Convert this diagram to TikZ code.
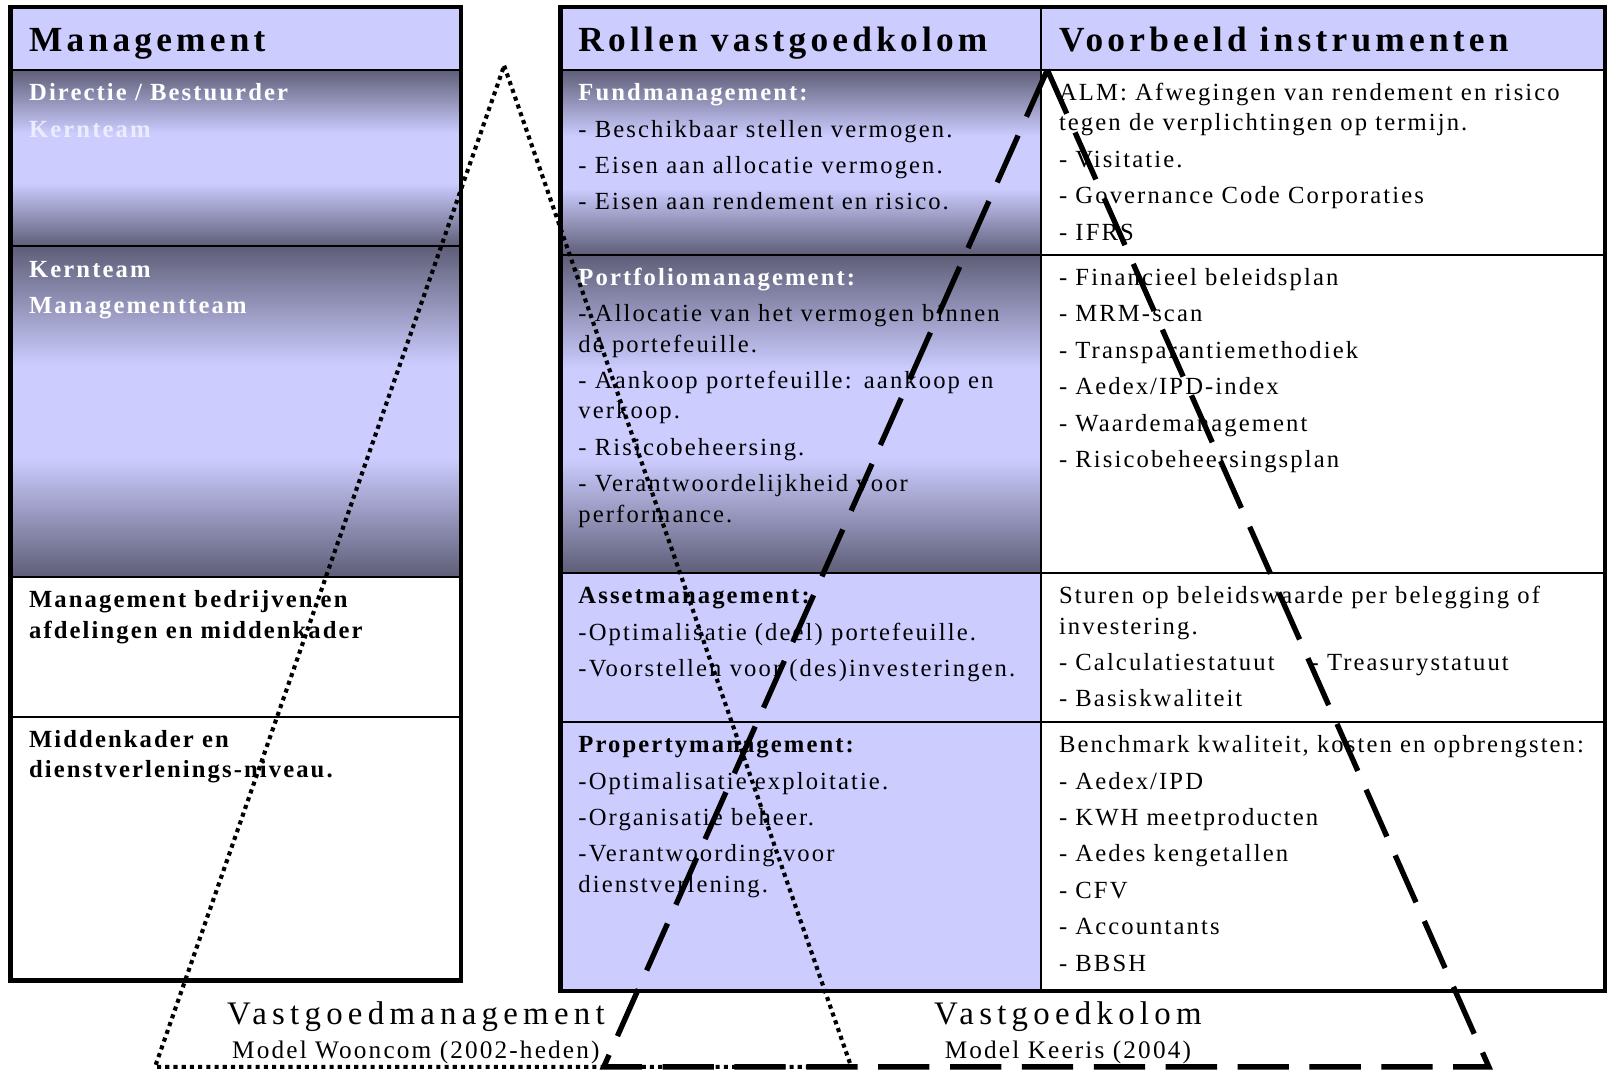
\documentclass[tikz,border=0pt]{standalone}
\usepackage{fontspec}
\setmainfont{Liberation Serif}
\newfontfamily\tekstfont[LetterSpace=8.5]{Liberation Serif}
\newfontfamily\kopfont[LetterSpace=12]{Liberation Serif}
\newfontfamily\onderfont[LetterSpace=16]{Liberation Serif}
\usetikzlibrary{calc}

\definecolor{lila}{RGB}{204,204,255}
\definecolor{donker}{RGB}{94,94,120}
\definecolor{licht}{RGB}{236,236,255}
\pgfdeclareverticalshading{balk}{100bp}{color(0bp)=(donker); color(25bp)=(donker);
  color(43bp)=(lila); color(57bp)=(lila); color(75bp)=(donker); color(100bp)=(donker)}
\newcommand{\regel}{\\[3pt]}

\tikzset{
  kop/.style={anchor=base west, inner sep=0pt, font=\kopfont\bfseries\fontsize{17.2}{20}\selectfont},
  cel/.style={anchor=base west, inner sep=0pt, text width=300pt, align=left, font=\tekstfont\fontsize{12}{14.75}\selectfont},
  onder/.style={anchor=base, inner sep=0pt, font=\onderfont\fontsize{16}{18}\selectfont},
  model/.style={anchor=base, inner sep=0pt, font=\tekstfont\fontsize{12.3}{14}\selectfont},
  kader/.style={line width=2.2pt},
  lijn/.style={line width=1pt},
  stip/.style={line width=2pt, dash pattern=on 2pt off 2pt},
  streep/.style={line width=2.6pt, dash pattern=on 25pt off 10pt},
}

\begin{document}
\begin{tikzpicture}[x=0.5pt,y=-0.5pt]
\useasboundingbox (0,0) rectangle (1568,1043);
% vlakken
\fill[lila] (10,7) rectangle (449,68);
\shade[shading=balk] (10,68) rectangle (449,240);
\shade[shading=balk] (10,240) rectangle (449,562);
\fill[lila] (546,7) rectangle (1563,68);
\shade[shading=balk] (546,68) rectangle (1014,248);
\shade[shading=balk] (546,248) rectangle (1014,558);
\fill[lila] (546,558) rectangle (1014,965);

% linker tabel
\node[kop] (mgmt) at (28,50) {Management};
\node[cel] (dir) at (28,98) {\bfseries\color{white}Directie / Bestuurder\regel\color{licht}Kernteam};
\node[cel] (kern) at (28,270) {\bfseries\color{white}Kernteam\regel Managementteam};
\node[cel] (bedr) at (28,592) {\bfseries Management bedrijven en\\afdelingen en middenkader};
\node[cel] (midk) at (28,728) {\bfseries Middenkader en\\dienstverlenings-niveau.};

% rollen
\node[kop] (rollen) at (563,50) {Rollen vastgoedkolom};
\node[cel] (fund) at (563,98) {{\bfseries\color{white}Fundmanagement:}\regel
  - Beschikbaar stellen vermogen.\regel
  - Eisen aan allocatie vermogen.\regel
  - Eisen aan rendement en risico.};
\node[cel] (port) at (563,278) {{\bfseries\color{white}Portfoliomanagement:}\regel
  - Allocatie van het vermogen binnen\\de portefeuille.\regel
  - Aankoop portefeuille: aankoop en\\verkoop.\regel
  - Risicobeheersing.\regel
  - Verantwoordelijkheid voor\\performance.};
\node[cel] (asset) at (563,588) {{\bfseries Assetmanagement:}\regel
  -Optimalisatie (deel) portefeuille.\regel
  -Voorstellen voor (des)investeringen.};
\node[cel] (prop) at (563,733) {{\bfseries Propertymanagement:}\regel
  -Optimalisatie exploitatie.\regel
  -Organisatie beheer.\regel
  -Verantwoording voor\\dienstverlening.};

% instrumenten
\node[kop] (instr) at (1031,50) {Voorbeeld instrumenten};
\node[cel] (alm) at (1031,98) {ALM: Afwegingen van rendement en risico\\tegen de verplichtingen op termijn.\regel
  - Visitatie.\regel
  - Governance Code Corporaties\regel
  - IFRS};
\node[cel] (fin) at (1031,278) {- Financieel beleidsplan\regel
  - MRM-scan\regel
  - Transparantiemethodiek\regel
  - Aedex/IPD-index\regel
  - Waardemanagement\regel
  - Risicobeheersingsplan};
\node[cel] (sturen) at (1031,588) {Sturen op beleidswaarde per belegging of\\investering.\regel
  \makebox[122.5pt][l]{- Calculatiestatuut}- Treasurystatuut\regel
  - Basiskwaliteit};
\node[cel] (bench) at (1031,733) {Benchmark kwaliteit, kosten en opbrengsten:\regel
  - Aedex/IPD\regel
  - KWH meetproducten\regel
  - Aedes kengetallen\regel
  - CFV\regel
  - Accountants\regel
  - BBSH};

% lijnen
\draw[lijn] (10,68) -- (449,68) (10,240) -- (449,240) (10,562) -- (449,562) (10,698) -- (449,698);
\draw[kader] (10,7) rectangle (449,955);
\draw[lijn] (1014,7) -- (1014,965);
\foreach \y in {68,248,558,703} \draw[lijn] (546,\y) -- (1563,\y);
\draw[kader] (546,7) rectangle (1563,965);

% driehoeken
\coordinate (top1) at (491,64);
\coordinate (links1) at (151,1039);
\coordinate (rechts1) at (829,1039);
\draw[stip] (top1) -- (rechts1) -- (links1) -- cycle;
\coordinate (top2) at (1020,68);
\coordinate (links2) at (588,1039);
\coordinate (rechts2) at (1450,1039);
\draw[streep] (top2) -- (links2) -- (rechts2) -- (top2);

% onderschriften
\node[onder] (vgm) at (405,998) {Vastgoedmanagement};
\node[model] (woon) at (405,1031) {Model Wooncom (2002-heden)};
\node[onder] (vgk) at (1040,998) {Vastgoedkolom};
\node[model] (keer) at (1040,1031) {Model Keeris (2004)};
\end{tikzpicture}
\end{document}
